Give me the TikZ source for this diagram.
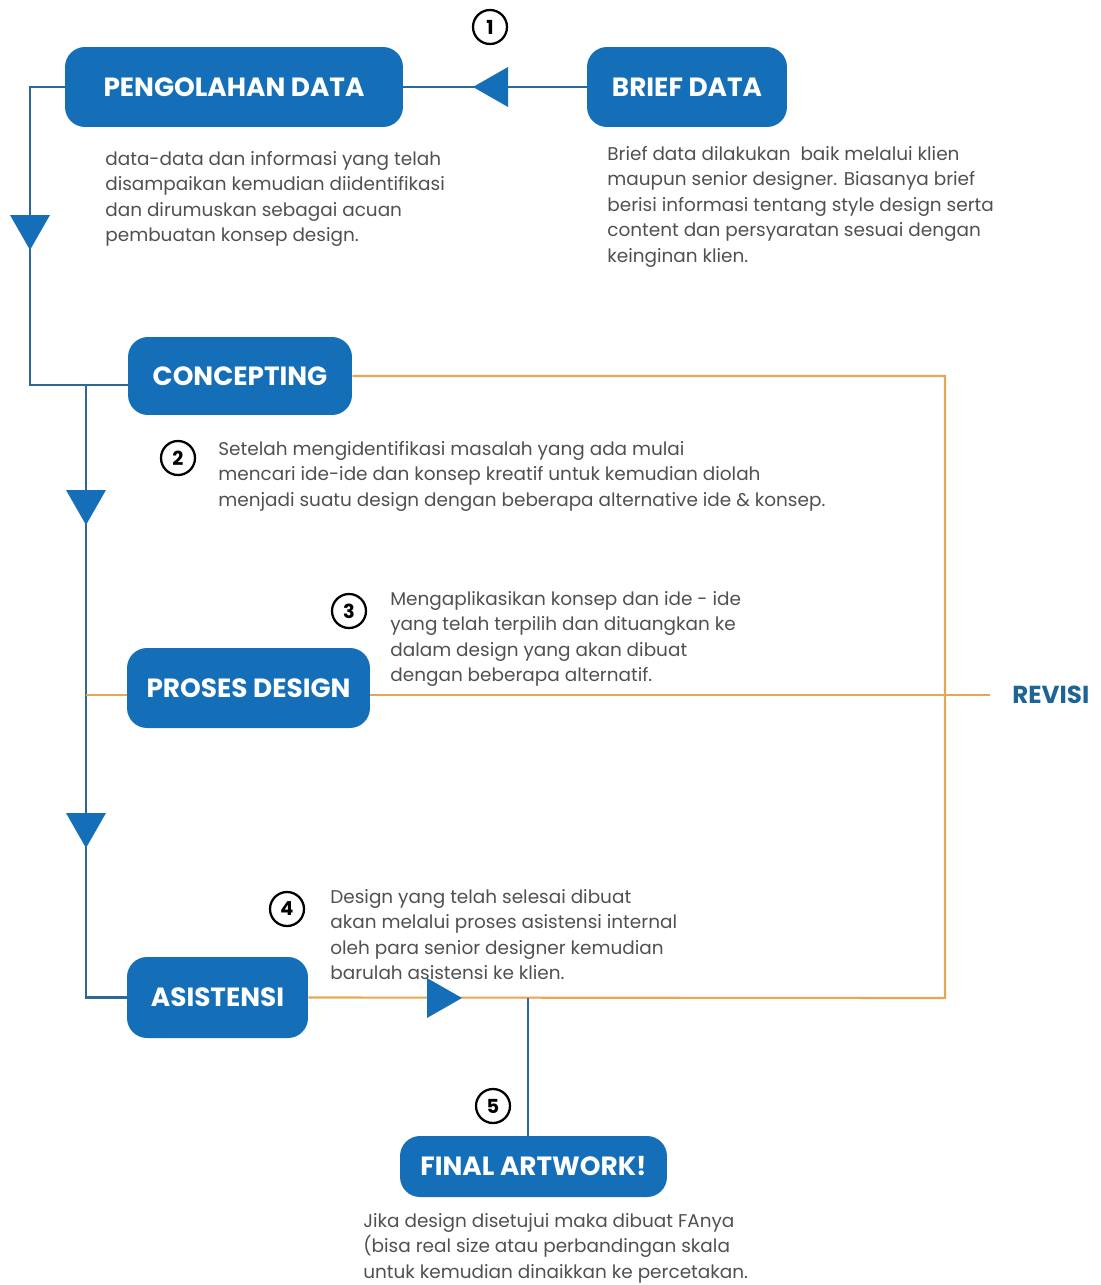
\documentclass[tikz,border=0pt]{standalone}
\usepackage{fontspec}
\setmainfont{Poppins}
\usetikzlibrary{positioning}
\definecolor{boxblue}{RGB}{20,111,184}
\definecolor{lineblue}{RGB}{45,105,150}
\definecolor{revline}{RGB}{228,168,85}
\definecolor{txtgray}{RGB}{80,80,80}
\definecolor{revblue}{RGB}{30,100,150}
\begin{document}
\begin{tikzpicture}[x=0.02cm,y=-0.02cm,
	stage/.style={rectangle,rounded corners=0.4cm,fill=boxblue,text=white,
	font=\bfseries\fontsize{15}{18}\selectfont,minimum height=1.6cm,inner sep=0},
	num/.style={circle,draw,line width=1.3pt,minimum size=0.68cm,inner sep=0,
	font=\bfseries\fontsize{11}{13}\selectfont},
	desc/.style={anchor=north west,align=left,inner sep=0,text=txtgray,
	font=\fontsize{10.5}{14.5}\selectfont},
	flow/.style={draw=lineblue,line width=1.2pt},
	rev/.style={draw=revline,line width=1.2pt},
	arrowtri/.pic={\fill[boxblue] (0,0) -- (-35,-20) -- (-35,20) -- cycle;}]
\useasboundingbox (0,0) rectangle (1101,1285);

\node[stage,minimum width=6.76cm] (peng) at (234,87) {PENGOLAHAN DATA};
\node[stage,minimum width=4cm] (brief) at (687,87) {BRIEF DATA};
\node[stage,minimum width=4.48cm,minimum height=1.56cm] (conc) at (240,376) {CONCEPTING};
\node[stage,minimum width=4.86cm] (pros) at (248.5,688) {PROSES DESIGN};
\node[stage,minimum width=3.62cm,minimum height=1.62cm] (asis) at (217.5,997.5) {ASISTENSI};
\node[stage,minimum width=5.34cm,minimum height=1.22cm] (fin) at (533.5,1166.5) {FINAL ARTWORK!};
\node[anchor=west,inner sep=0,inner xsep=0.44cm,text=revblue,
	font=\bfseries\fontsize{14}{16}\selectfont] (revisi) at (990,695) {REVISI};

\coordinate (c1) at (30,385);
\coordinate (c2) at (86,385);
\coordinate (c3) at (945,998);
\coordinate (c4) at (86,695);
\coordinate (c5) at (528,998);

\draw[flow] (brief.west) -- (peng.east);
\draw[flow] (peng.west) -| (c1) -- (c1 -| conc.west);
\draw[flow] (c2) |- (asis.west);
\draw[rev] (conc.east) -| (c3) -- (asis.east);
\draw[rev] (c4) -- (c4 -| pros.west) (c4 -| pros.east) -- (revisi.west);
\draw[flow] (c5) -- (c5 |- fin.north);

\pic[rotate=180] at (473,87) {arrowtri};
\pic[rotate=-90] at (30,250) {arrowtri};
\pic[rotate=-90] at (86,525) {arrowtri};
\pic[rotate=-90] at (86,848) {arrowtri};
\pic at (462,998) {arrowtri};

\node[num] (n1) at (490,27) {1};
\node[num] (n2) at (178,458) {2};
\node[num] (n3) at (349,611) {3};
\node[num] (n4) at (287,909) {4};
\node[num] (n5) at (493,1106) {5};

\node[desc] (d1) at (105,151) {data-data dan informasi yang telah\\disampaikan kemudian diidentifikasi\\dan dirumuskan sebagai acuan\\pembuatan konsep design.};
\node[desc] (d0) at (607,146) {Brief data dilakukan\ \ baik melalui klien\\maupun senior designer. Biasanya brief\\berisi informasi tentang style design serta\\content dan persyaratan sesuai dengan\\keinginan klien.};
\node[desc] (d2) at (218,441) {Setelah mengidentifikasi masalah yang ada mulai\\mencari ide-ide dan konsep kreatif untuk kemudian diolah\\menjadi suatu design dengan beberapa alternative ide \& konsep.};
\node[desc] (d3) at (390,591) {Mengaplikasikan konsep dan ide - ide\\yang telah terpilih dan dituangkan ke\\dalam design yang akan dibuat\\dengan beberapa alternatif.};
\node[desc] (d4) at (330,889) {Design yang telah selesai dibuat\\akan melalui proses asistensi internal\\oleh para senior designer kemudian\\barulah asistensi ke klien.};
\node[desc] (d5) at (363,1213) {Jika design disetujui maka dibuat FAnya\\(bisa real size atau perbandingan skala\\untuk kemudian dinaikkan ke percetakan.};
\end{tikzpicture}
\end{document}
